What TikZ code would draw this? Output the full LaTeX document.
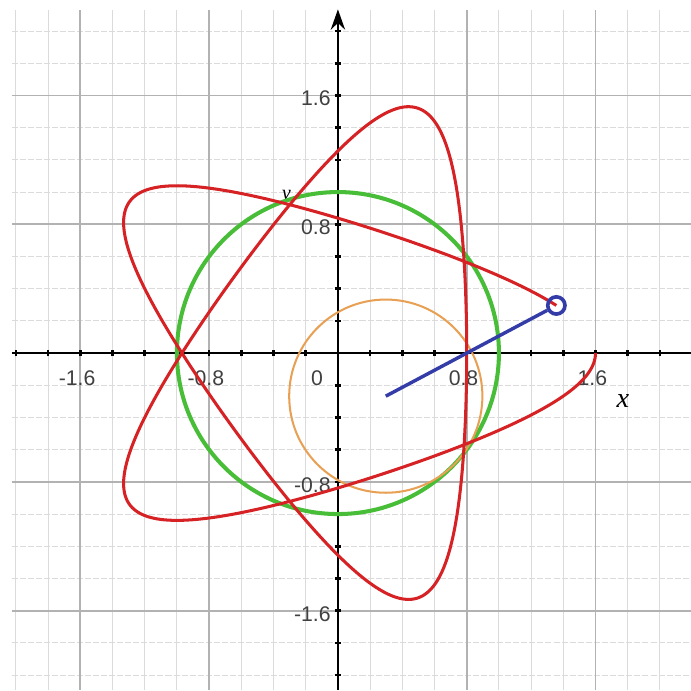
\documentclass[tikz,border=0pt]{standalone}
\usepackage{fontspec}
\setmainfont{Liberation Sans}
\newfontfamily\varfont{Liberation Serif}
\usepackage{tikz}
\usetikzlibrary{arrows.meta, positioning}
\definecolor{curvered}{RGB}{214,34,36}
\definecolor{ringgreen}{RGB}{72,190,56}
\definecolor{wheelorange}{RGB}{232,160,84}
\definecolor{armblue}{RGB}{52,60,168}
\tikzset{
    gridminor/.style={draw=gray!28, line width=0.5pt},
    gridmajor/.style={draw=gray!60, line width=0.9pt},
    axisline/.style={draw=black, line width=1.4pt},
    tickmark/.style={draw=black, line width=1.3pt},
    ticklbl/.style={font=\fontsize{10.5}{12}\selectfont, text=black!75, inner sep=1pt},
    varlbl/.style={font=\fontsize{14}{16}\varfont\itshape, inner sep=0pt},
    tracecurve/.style={draw=curvered, line width=1.5pt},
    fixedring/.style={draw=ringgreen, line width=2pt},
    rollring/.style={draw=wheelorange, line width=1pt},
    armline/.style={draw=armblue, line width=1.7pt},
    penmark/.style={circle, draw=armblue, line width=1.8pt, minimum size=0.3cm, inner sep=0pt},
}

\begin{document}
\begin{tikzpicture}[x=2.8cm, y=2.8cm]
    \useasboundingbox[fill=white] (-2.099,-2.093) rectangle (2.193,2.193);
    % grid
    \foreach \k in {-10,...,10} {
        \draw[gridminor] (\k/5,-2.093) -- (\k/5,2.13);
        \draw[gridminor, dash pattern=on 3pt off 1pt] (-2.025,\k/5) -- (2.193,\k/5);
    }
    \foreach \k in {-2,-1,1,2} {
        \draw[gridmajor] (\k*0.8,-2.093) -- (\k*0.8,2.13);
        \draw[gridmajor] (-2.025,\k*0.8) -- (2.193,\k*0.8);
    }
    % axes
    \draw[axisline] (-2.025,0) -- (2.193,0);
    \draw[axisline, -{Stealth[length=10pt, width=7pt]}] (0,-2.093) -- (0,2.135);
    \foreach \k in {-10,...,10} {
        \draw[tickmark] (\k/5,-0.02) -- (\k/5,0.02);
        \draw[tickmark] (-0.02,\k/5) -- (0.02,\k/5);
    }
    \foreach \v/\n in {-1.6/a, -0.8/b, 0.8/c, 1.6/d} {
        \node[ticklbl] (xl\n) at (\v-0.02,-0.155) {\v};
        \node[ticklbl, anchor=east] (yl\n) at (-0.03,\v-0.02) {\v};
    }
    \node[ticklbl] (xl0) at (-0.13,-0.155) {0};
    \node[varlbl] (xlbl) at (1.77,-0.30) {x};
    \node[varlbl, font=\fontsize{10}{12}\varfont\itshape] (ylbl) at (-0.32,0.97) {y};
    % circles and trace
    \draw[fixedring] (0,0) circle[radius=1];
    \coordinate (hub) at ({0.4*cos(1038)},{0.4*sin(1038)});
    \draw[rollring] (hub) circle[radius=0.6];
    \draw[tracecurve, domain=0:1038, samples=500, smooth, variable=\t]
        plot ({0.4*cos(\t)+1.2*cos(2*\t/3)}, {0.4*sin(\t)-1.2*sin(2*\t/3)});
    \node[penmark] (pen) at ({0.4*cos(1038)+1.2*cos(692)},{0.4*sin(1038)-1.2*sin(692)}) {};
    \draw[armline] (hub) -- (pen);
\end{tikzpicture}
\end{document}
